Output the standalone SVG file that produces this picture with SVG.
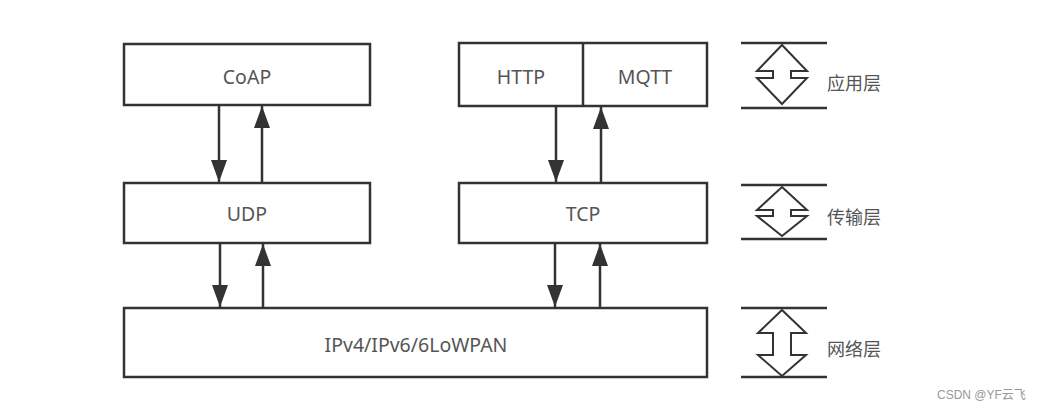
<svg xmlns="http://www.w3.org/2000/svg" width="1045" height="411" viewBox="0 0 1045 411">
<defs>
<style>
.box{fill:#fff;stroke:#333;stroke-width:2.5}
.t{font-family:"Noto Sans","Liberation Sans",sans-serif;font-size:19.5px;fill:#555;text-anchor:middle;dominant-baseline:central}
.cn{font-family:"Noto Sans CJK SC","Noto Sans",sans-serif;font-size:18px;fill:#555;dominant-baseline:central}
.ln{stroke:#333;stroke-width:2.5;fill:none}
.sym{fill:#fff;stroke:#333;stroke-width:2;stroke-linejoin:miter}
.wm{font-family:"Liberation Sans","Noto Sans CJK SC",sans-serif;font-size:12px;fill:#999}
</style>
<marker id="ah" markerWidth="22" markerHeight="16" refX="22" refY="8" viewBox="0 0 22 16" orient="auto" markerUnits="userSpaceOnUse">
<path d="M0,0 L22,8 L0,16 Z" fill="#333"/>
</marker>
</defs>
<rect width="1045" height="411" fill="#fff"/>
<g id="coap"><rect class="box" x="124" y="44" width="246" height="61"/><text class="t" x="247" y="76">CoAP</text></g>
<g id="http-mqtt"><rect class="box" x="459" y="43" width="248" height="63"/><line class="ln" x1="583" y1="43" x2="583" y2="106"/><text class="t" x="521" y="76">HTTP</text><text class="t" x="645" y="76">MQTT</text></g>
<g id="udp"><rect class="box" x="124" y="183" width="246" height="60"/><text class="t" x="247" y="213">UDP</text></g>
<g id="tcp"><rect class="box" x="459" y="183" width="248" height="60"/><text class="t" x="583" y="213">TCP</text></g>
<g id="ip"><rect class="box" x="124" y="308" width="583" height="69"/><text class="t" x="416" y="344">IPv4/IPv6/6LoWPAN</text></g>
<g id="connectors">
<line class="ln" x1="219" y1="106" x2="219" y2="182" marker-end="url(#ah)"/>
<line class="ln" x1="262" y1="182" x2="262" y2="106" marker-end="url(#ah)"/>
<line class="ln" x1="556" y1="107" x2="556" y2="182" marker-end="url(#ah)"/>
<line class="ln" x1="601" y1="182" x2="601" y2="107" marker-end="url(#ah)"/>
<line class="ln" x1="220" y1="244" x2="220" y2="307" marker-end="url(#ah)"/>
<line class="ln" x1="263" y1="307" x2="263" y2="244" marker-end="url(#ah)"/>
<line class="ln" x1="555" y1="244" x2="555" y2="307" marker-end="url(#ah)"/>
<line class="ln" x1="600" y1="307" x2="600" y2="244" marker-end="url(#ah)"/>
</g>
<g id="layer-app">
<line class="ln" x1="741" y1="43" x2="827" y2="43"/>
<line class="ln" x1="741" y1="108" x2="827" y2="108"/>
<polygon class="sym" points="782,45 807,71 791,71 791,78 807,78 782,104 757,78 773,78 773,71 757,71"/>
<text class="cn" x="827" y="82">应用层</text>
</g>
<g id="layer-transport">
<line class="ln" x1="741" y1="185" x2="827" y2="185"/>
<line class="ln" x1="741" y1="239" x2="827" y2="239"/>
<polygon class="sym" points="782,187 807,210 791,210 791,216 807,216 782,236 757,216 773,216 773,210 757,210"/>
<text class="cn" x="827" y="216">传输层</text>
</g>
<g id="layer-network">
<line class="ln" x1="741" y1="308" x2="827" y2="308"/>
<line class="ln" x1="741" y1="377" x2="827" y2="377"/>
<polygon class="sym" points="782,310 806,333 791,333 791,355 806,355 782,376 758,355 773,355 773,333 758,333"/>
<text class="cn" x="827" y="348">网络层</text>
</g>
<text class="wm" x="937" y="399">CSDN @YF云飞</text>
</svg>
